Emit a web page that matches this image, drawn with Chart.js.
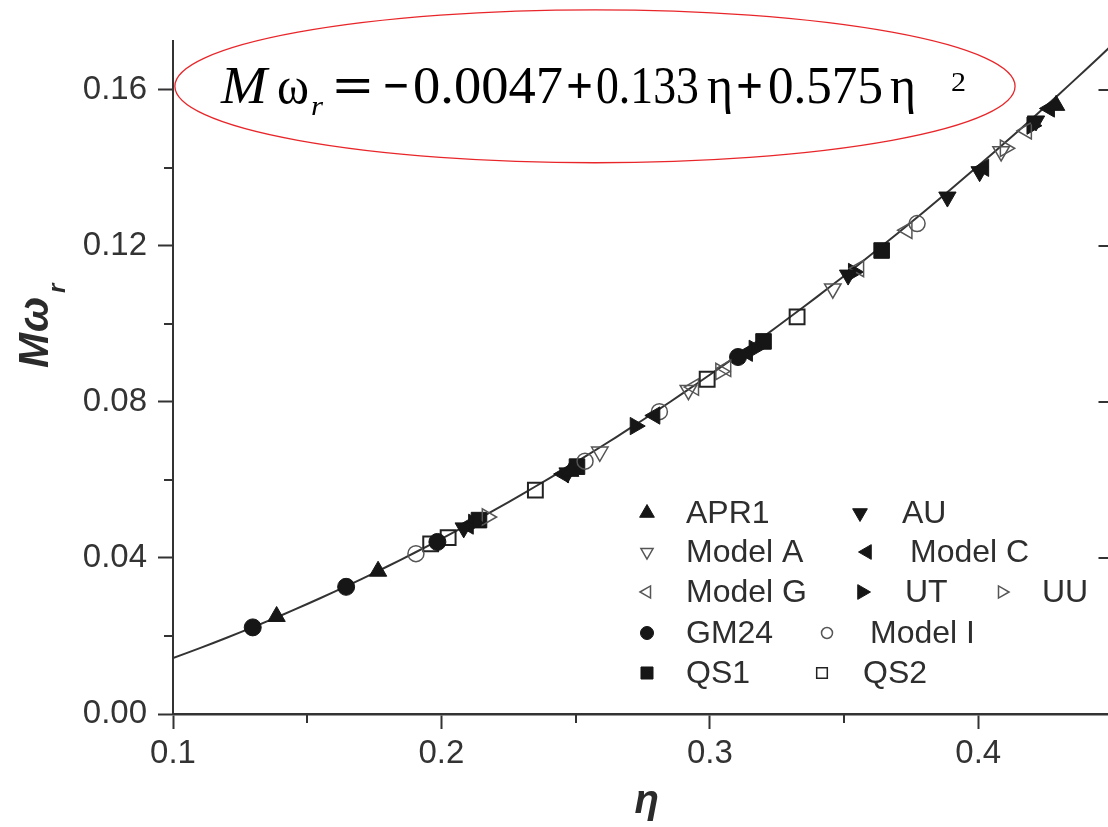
<!DOCTYPE html>
<html>
<head>
<meta charset="utf-8">
<script src="https://cdn.jsdelivr.net/npm/chart.js@4.4.1/dist/chart.umd.min.js"></script>
<style>
  html, body { margin: 0; padding: 0; background: #fff; overflow: hidden; }
  #wrap { position: relative; width: 1125px; height: 827px; }
</style>
</head>
<body>
<div id="wrap"><canvas id="c" width="1125" height="827"></canvas></div>
<script>
// Quadratic fit  Mω_r = a0 + a1·η + a2·η²
const fitCoeffs = [-0.0047, 0.133, 0.575];

// Axis ticks
const xTickValues = [0.1, 0.2, 0.3, 0.4];
const xTickLabels = ['0.1', '0.2', '0.3', '0.4'];
const xMinorTicks = [0.15, 0.25, 0.35];
const yTickValues = [0, 0.04, 0.08, 0.12, 0.16];
const yTickLabels = ['0.00', '0.04', '0.08', '0.12', '0.16'];
const yMinorTicks = [0.02, 0.06, 0.10, 0.14];

// Equation of state samples: compactness η and r-mode frequency Mω_r
const apr1Eta   = [0.1386, 0.1764, 0.2480, 0.4290];
const apr1Mw    = [0.0250, 0.0366, 0.0622, 0.1560];
const auEta     = [0.2083, 0.2470, 0.3515, 0.3885, 0.4005, 0.4215];
const auMw      = [0.0477, 0.0618, 0.1125, 0.1325, 0.1390, 0.1520];
const modelAEta = [0.2590, 0.2920, 0.3458, 0.4085];
const modelAMw  = [0.0672, 0.0830, 0.1090, 0.1442];
const modelCEta = [0.2100, 0.2455, 0.2795, 0.3140, 0.4020, 0.4265];
const modelCMw  = [0.0483, 0.0615, 0.0765, 0.0926, 0.1400, 0.1552];
const modelGEta = [0.2940, 0.3060, 0.3555, 0.3735, 0.4180];
const modelGMw  = [0.0838, 0.0886, 0.1142, 0.1240, 0.1495];
const utEta     = [0.2120, 0.2722, 0.3165, 0.3535, 0.4200];
const utMw      = [0.0490, 0.0738, 0.0936, 0.1133, 0.1508];
const uuEta     = [0.2170, 0.3040, 0.4100];
const uuMw      = [0.0505, 0.0878, 0.1450];
const gm24Eta   = [0.1297, 0.1645, 0.1985, 0.3105];
const gm24Mw    = [0.0222, 0.0326, 0.0441, 0.0915];
const modelIEta = [0.1905, 0.2535, 0.2812, 0.3772];
const modelIMw  = [0.0411, 0.0648, 0.0775, 0.1257];
const qs1Eta    = [0.2140, 0.2505, 0.3200, 0.3640];
const qs1Mw     = [0.0497, 0.0634, 0.0955, 0.1188];
const qs2Eta    = [0.1960, 0.2025, 0.2350, 0.2990, 0.3325];
const qs2Mw     = [0.0436, 0.0452, 0.0574, 0.0858, 0.1018];

const SANS = '"Liberation Sans", Arial, Helvetica, sans-serif';
const SERIF = '"Liberation Serif", "Times New Roman", serif';
const INK = '#2b2b2b';
const FILL = '#161616';
const OPEN = '#555555';

// Marker look for each series
const series = [
  { name: 'APR1',    eta: apr1Eta,   mw: apr1Mw,   style: 'triangle', rot: 0,   filled: true,  r: 10,  lr: 8.5 },
  { name: 'AU',      eta: auEta,     mw: auMw,     style: 'triangle', rot: 180, filled: true,  r: 10,  lr: 8.5 },
  { name: 'Model A', eta: modelAEta, mw: modelAMw, style: 'triangle', rot: 180, filled: false, r: 9.5, lr: 7 },
  { name: 'Model C', eta: modelCEta, mw: modelCMw, style: 'triangle', rot: -90, filled: true,  r: 10,  lr: 8.5 },
  { name: 'Model G', eta: modelGEta, mw: modelGMw, style: 'triangle', rot: -90, filled: false, r: 9.5, lr: 7 },
  { name: 'UT',      eta: utEta,     mw: utMw,     style: 'triangle', rot: 90,  filled: true,  r: 10,  lr: 8.5 },
  { name: 'UU',      eta: uuEta,     mw: uuMw,     style: 'triangle', rot: 90,  filled: false, r: 9.5, lr: 7 },
  { name: 'GM24',    eta: gm24Eta,   mw: gm24Mw,   style: 'circle',   rot: 0,   filled: true,  r: 8.5, lr: 6.5 },
  { name: 'Model I', eta: modelIEta, mw: modelIMw, style: 'circle',   rot: 0,   filled: false, r: 8,   lr: 5.5 },
  { name: 'QS1',     eta: qs1Eta,    mw: qs1Mw,    style: 'rect',     rot: 0,   filled: true,  r: 11,  lr: 8.5 },
  { name: 'QS2',     eta: qs2Eta,    mw: qs2Mw,    style: 'rect',     rot: 0,   filled: false, r: 10.5, lr: 7.5 }
];

// Legend grid: [series name, marker x, text x, row y]  (canvas pixels)
const legendCells = [
  ['APR1',    647, 686, 513], ['AU',      860, 902, 513],
  ['Model A', 647, 686, 552], ['Model C', 867, 910, 552],
  ['Model G', 647, 686, 592], ['UT',      862, 905, 592], ['UU', 1002, 1042, 592],
  ['GM24',    647, 686, 633], ['Model I', 827, 870, 633],
  ['QS1',     647, 686, 673], ['QS2',     822, 863, 673]
];

// Ellipse around the fit formula, in data units
const formulaBox = { eta: 0.2572, mw: 0.1609, halfEta: 0.1565, halfMw: 0.0196 };

// Fit curve sampled along η
const fitEta = [];
for (let i = 0; i <= 70; i++) fitEta.push(0.1 + i * 0.005);
const fitPoints = fitEta.map(e => ({ x: e, y: fitCoeffs[0] + fitCoeffs[1] * e + fitCoeffs[2] * e * e }));

const datasets = series.map(s => ({
  label: s.name,
  data: s.eta.map((e, i) => ({ x: e, y: s.mw[i] })),
  showLine: false,
  pointStyle: s.style,
  pointRotation: s.rot,
  pointRadius: s.r,
  pointHoverRadius: s.r,
  pointBackgroundColor: s.filled ? FILL : 'rgba(0,0,0,0)',
  pointBorderColor: s.filled ? FILL : (s.style === 'rect' ? '#222' : OPEN),
  pointBorderWidth: s.filled ? 1 : (s.style === 'rect' ? 2 : 1.5)
}));
datasets.push({
  label: 'fit',
  data: fitPoints,
  showLine: true,
  borderColor: '#333',
  borderWidth: 2,
  pointRadius: 0,
  tension: 0
});

function drawMarker(ctx, s, radius, x, y) {
  ctx.save();
  ctx.fillStyle = s.filled ? FILL : 'rgba(0,0,0,0)';
  ctx.strokeStyle = s.filled ? FILL : (s.style === 'rect' ? '#222' : OPEN);
  ctx.lineWidth = s.filled ? 1 : 1.5;
  const opts = { pointStyle: s.style, radius: radius, rotation: s.rot, borderWidth: ctx.lineWidth };
  if (Chart.helpers && Chart.helpers.drawPoint) {
    Chart.helpers.drawPoint(ctx, opts, x, y);
  }
  ctx.restore();
}

const decorations = {
  id: 'decorations',
  afterDraw(chart) {
    const { ctx, chartArea: a } = chart;
    const xs = chart.scales.x, ys = chart.scales.y;
    ctx.save();

    // minor ticks and mirrored right-hand ticks
    ctx.strokeStyle = '#333';
    ctx.lineWidth = 2;
    ctx.beginPath();
    xMinorTicks.forEach(v => {
      const px = Math.round(xs.getPixelForValue(v));
      ctx.moveTo(px, a.bottom); ctx.lineTo(px, a.bottom + 9);
    });
    yMinorTicks.forEach(v => {
      const py = Math.round(ys.getPixelForValue(v));
      ctx.moveTo(a.left, py); ctx.lineTo(a.left - 9, py);
    });
    yTickValues.slice(1).forEach(v => {
      const py = Math.round(ys.getPixelForValue(v));
      ctx.moveTo(a.right, py); ctx.lineTo(a.right - 14, py);
    });
    ctx.stroke();

    // axis titles
    ctx.fillStyle = INK;
    ctx.textBaseline = 'alphabetic';
    ctx.save();
    ctx.translate(48, 368);
    ctx.rotate(-Math.PI / 2);
    ctx.font = 'bold italic 42px ' + SANS;
    ctx.textAlign = 'left';
    ctx.fillText('M', 0, 0);
    const wM = ctx.measureText('M').width;
    ctx.fillText('ω', wM + 1, 0);
    const wO = ctx.measureText('ω').width;
    ctx.font = 'bold italic 24px ' + SANS;
    ctx.fillText('r', wM + wO + 5, 17);
    ctx.restore();

    ctx.font = 'bold italic 40px ' + SANS;
    ctx.textAlign = 'center';
    ctx.fillText('η', xs.getPixelForValue(0.2765), 813);

    // ellipse and fit formula
    const cx = xs.getPixelForValue(formulaBox.eta);
    const cy = ys.getPixelForValue(formulaBox.mw);
    const rx = xs.getPixelForValue(formulaBox.eta + formulaBox.halfEta) - cx;
    const ry = cy - ys.getPixelForValue(formulaBox.mw + formulaBox.halfMw);
    ctx.beginPath();
    ctx.ellipse(cx, cy, rx, ry, 0, 0, Math.PI * 2);
    ctx.strokeStyle = '#e8262a';
    ctx.lineWidth = 1.3;
    ctx.stroke();

    const base = cy + 16.5;
    const pieces = [
      { t: 'M',      f: 'italic 52px ' + SERIF, dx: -374, w: 46,  dy: 0 },
      { t: 'ω',      f: '52px ' + SERIF,        dx: -318, w: 32,  dy: 0 },
      { t: 'r',      f: 'italic 28px ' + SERIF, dx: -284, w: 12,  dy: 12 },
      { t: '=',      f: 'bold 52px ' + SERIF,   dx: -262, w: 40,  dy: 0 },
      { t: '\u2212', f: 'bold 52px ' + SERIF,   dx: -212, w: 26,  dy: 0 },
      { t: '0.0047', f: '52px ' + SERIF,        dx: -182, w: 150, dy: 0 },
      { t: '+',      f: 'bold 52px ' + SERIF,   dx: -29,  w: 27,  dy: 0 },
      { t: '0.133',  f: '52px ' + SERIF,        dx: 1,    w: 103, dy: 0 },
      { t: 'η',      f: '52px ' + SERIF,        dx: 112,  w: 26,  dy: 0 },
      { t: '+',      f: 'bold 52px ' + SERIF,   dx: 141,  w: 27,  dy: 0 },
      { t: '0.575',  f: '52px ' + SERIF,        dx: 173,  w: 115, dy: 0 },
      { t: 'η',      f: '52px ' + SERIF,        dx: 295,  w: 26,  dy: 0 },
      { t: '2',      f: '27px ' + SERIF,        dx: 356,  w: 15,  dy: -12 }
    ];
    ctx.fillStyle = '#000';
    ctx.textAlign = 'left';
    pieces.forEach(p => {
      ctx.font = p.f;
      const m = ctx.measureText(p.t).width;
      const sx = p.w / m;
      ctx.save();
      ctx.translate(cx + p.dx, base + p.dy);
      ctx.scale(sx, 1);
      ctx.fillText(p.t, 0, 0);
      ctx.restore();
    });

    // legend
    ctx.font = '32px ' + SANS;
    ctx.textAlign = 'left';
    ctx.textBaseline = 'middle';
    legendCells.forEach(([name, mx, tx, ry2]) => {
      const s = series.find(q => q.name === name);
      drawMarker(ctx, s, s.lr, mx, ry2);
      ctx.fillStyle = '#2e2e2e';
      ctx.fillText(name, tx, ry2 + 1);
    });

    ctx.restore();
  }
};

new Chart(document.getElementById('c'), {
  type: 'scatter',
  data: { datasets },
  options: {
    responsive: false,
    animation: false,
    events: [],
    layout: { padding: { top: 41, right: 8, left: 0, bottom: 0 } },
    plugins: { legend: { display: false }, tooltip: { enabled: false } },
    scales: {
      x: {
        type: 'linear',
        min: 0.1,
        max: 0.45,
        afterBuildTicks: s => { s.ticks = xTickValues.map(v => ({ value: v })); },
        afterFit: s => { s.height = 113; },
        ticks: {
          autoSkip: false,
          maxRotation: 0,
          padding: 5,
          color: '#333',
          font: { family: SANS, size: 33 },
          callback: (v, i) => xTickLabels[i]
        },
        grid: { drawOnChartArea: false, drawTicks: true, tickLength: 15, tickWidth: 2, color: '#333' },
        border: { display: true, color: '#333', width: 2.5 }
      },
      y: {
        type: 'linear',
        min: 0,
        max: 0.1725,
        afterBuildTicks: s => { s.ticks = yTickValues.map(v => ({ value: v })); },
        afterFit: s => { s.width = 173; },
        ticks: {
          autoSkip: false,
          padding: 11,
          color: '#333',
          font: { family: SANS, size: 33 },
          callback: (v, i) => yTickLabels[i]
        },
        grid: { drawOnChartArea: false, drawTicks: true, tickLength: 15, tickWidth: 2, color: '#333' },
        border: { display: true, color: '#333', width: 2 }
      }
    }
  },
  plugins: [decorations]
});
</script>
</body>
</html>
